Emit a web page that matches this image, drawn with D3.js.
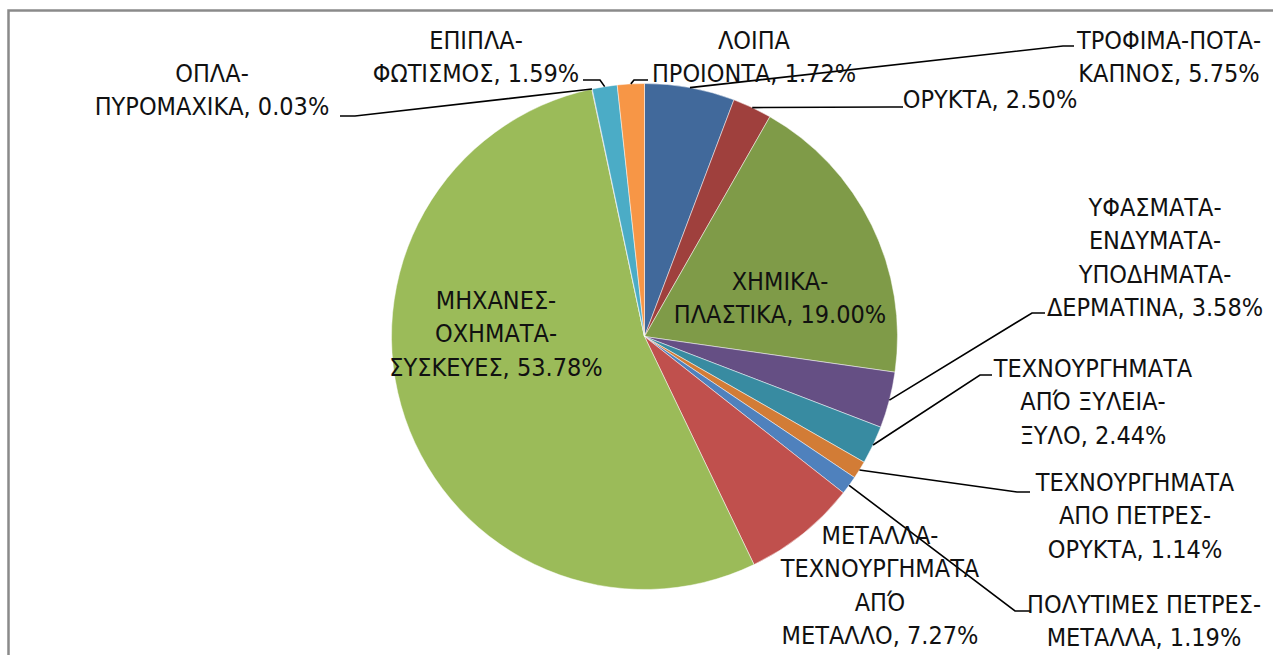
<!DOCTYPE html>
<html>
<head>
<meta charset="utf-8">
<script src="https://cdn.jsdelivr.net/npm/d3@7"></script>
<style>
  html, body { margin: 0; padding: 0; background: #fff; overflow: hidden; }
  svg { display: block; }
</style>
</head>
<body>
<script>
// slices, clockwise from 12 o'clock
const categories = [
  "ΤΡΟΦΙΜΑ-ΠΟΤΑ-ΚΑΠΝΟΣ",
  "ΟΡΥΚΤΑ",
  "ΧΗΜΙΚΑ-ΠΛΑΣΤΙΚΑ",
  "ΥΦΑΣΜΑΤΑ-ΕΝΔΥΜΑΤΑ-ΥΠΟΔΗΜΑΤΑ-ΔΕΡΜΑΤΙΝΑ",
  "ΤΕΧΝΟΥΡΓΗΜΑΤΑ ΑΠΌ ΞΥΛΕΙΑ-ΞΥΛΟ",
  "ΤΕΧΝΟΥΡΓΗΜΑΤΑ ΑΠΟ ΠΕΤΡΕΣ-ΟΡΥΚΤΑ",
  "ΠΟΛΥΤΙΜΕΣ ΠΕΤΡΕΣ-ΜΕΤΑΛΛΑ",
  "ΜΕΤΑΛΛΑ-ΤΕΧΝΟΥΡΓΗΜΑΤΑ ΑΠΌ ΜΕΤΑΛΛΟ",
  "ΜΗΧΑΝΕΣ-ΟΧΗΜΑΤΑ-ΣΥΣΚΕΥΕΣ",
  "ΟΠΛΑ-ΠΥΡΟΜΑΧΙΚΑ",
  "ΕΠΙΠΛΑ-ΦΩΤΙΣΜΟΣ",
  "ΛΟΙΠΑ ΠΡΟΙΟΝΤΑ"
];
const shares = [5.75, 2.50, 19.00, 3.58, 2.44, 1.14, 1.19, 7.27, 53.78, 0.03, 1.59, 1.72];

const colors = [
  "#41699b", "#9f403d", "#7f9b48", "#654f84", "#388ba1", "#d27c36",
  "#4f81bd", "#c0504d", "#9bbb59", "#8064a2", "#4bacc6", "#f79646"
];

// label placement (dragged by hand in the original): centre x, first row y,
// words per row, leader elbow + end (null = no leader)
const labelLayout = [
  { x: 1169, y: 40,  rows: [2, 2],       elbow: [1063, 46],  end: [1074, 46] },
  { x: 990,  y: 99,  rows: [2],          elbow: [890, 107],  end: [903, 107] },
  { x: 780,  y: 281, rows: [1, 2],       elbow: null },
  { x: 1155, y: 207, rows: [1, 1, 1, 2], elbow: [1032, 313], end: [1045, 313] },
  { x: 1093, y: 368, rows: [1, 2, 2],    elbow: [980, 375],  end: [992, 375] },
  { x: 1135, y: 482, rows: [1, 2, 2],    elbow: [1017, 492], end: [1030, 492] },
  { x: 1144, y: 604, rows: [2, 2],       elbow: [1015, 611], end: [1030, 611] },
  { x: 880,  y: 535, rows: [1, 1, 1, 2], elbow: null },
  { x: 496,  y: 300, rows: [1, 1, 2],    elbow: null },
  { x: 212,  y: 73,  rows: [1, 2],       elbow: [355, 116],  end: [340, 116] },
  { x: 476,  y: 40,  rows: [1, 2],       elbow: [600, 80],   end: [583, 80] },
  { x: 754,  y: 40,  rows: [1, 2],       elbow: [634, 80],   end: [648, 80] }
];

function drawPie () {
  const width = 1273;
  const height = 655;
  const cx = 644.5, cy = 336.5, radius = 253;
  const lineHeight = 33.5;

  const data = categories.map((name, i) => ({ name, value: shares[i], color: colors[i], layout: labelLayout[i] }));

  const pie = d3.pie().sort(null).value(d => d.value);
  const arc = d3.arc().innerRadius(0).outerRadius(radius);
  const arcs = pie(data);

  // break label text into rows: after hyphens and at spaces
  const labelRows = d => {
    const words = `${d.name}, ${d.value.toFixed(2)}%`.split(/(?<=-)|\s+/);
    const rows = [];
    let k = 0;
    d.layout.rows.forEach(n => {
      let s = "";
      words.slice(k, k + n).forEach(w => {
        s += (s === "" || s.endsWith("-")) ? w : " " + w;
      });
      rows.push(s);
      k += n;
    });
    return rows;
  };

  const svg = d3.select(document.body).append("svg")
    .attr("width", width)
    .attr("height", height);

  // chart frame (runs past the right and bottom edges)
  svg.append("rect")
    .attr("x", 8.5)
    .attr("y", 10.5)
    .attr("width", width + 20)
    .attr("height", height + 20)
    .attr("fill", "none")
    .attr("stroke", "#8a8a8a")
    .attr("stroke-width", 2.5);

  const g = svg.append("g")
    .attr("transform", `translate(${cx} ${cy})`);

  g.selectAll("path.slice")
    .data(arcs)
    .join("path")
      .attr("class", "slice")
      .attr("d", arc)
      .attr("fill", d => d.data.color)
      .attr("stroke", "#ffffff")
      .attr("stroke-opacity", 0.6)
      .attr("stroke-width", 0.8);

  // leader lines: slice edge at mid angle -> elbow -> label
  const leaders = arcs.filter(d => d.data.layout.elbow);
  svg.append("g")
    .selectAll("path")
    .data(leaders)
    .join("path")
      .attr("fill", "none")
      .attr("stroke", "#000")
      .attr("stroke-width", 1.6)
      .attr("d", d => {
        const a = (d.startAngle + d.endAngle) / 2;
        const p0 = [cx + radius * Math.sin(a), cy - radius * Math.cos(a)];
        return d3.line()([p0, d.data.layout.elbow, d.data.layout.end]);
      });

  // labels
  svg.append("g")
    .attr("font-family", "'Liberation Sans Narrow', 'DejaVu Sans Condensed', 'Open Sans', sans-serif")
    .attr("font-size", 25)
    .attr("fill", "#111")
    .attr("text-anchor", "middle")
    .selectAll("text")
    .data(data)
    .join("text")
      .attr("x", d => d.layout.x)
      .attr("y", d => d.layout.y)
      .selectAll("tspan")
      .data(d => labelRows(d).map((t, i) => ({ t, i, x: d.layout.x, y: d.layout.y })))
      .join("tspan")
        .attr("x", r => r.x)
        .attr("y", r => r.y + r.i * lineHeight)
        .attr("dy", "0.35em")
        .text(r => r.t);
}

drawPie();
</script>
</body>
</html>
